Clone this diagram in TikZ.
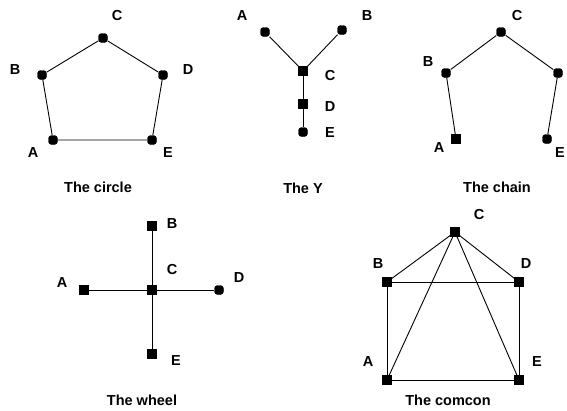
\documentclass[tikz,border=0pt]{standalone}
\usepackage{fontspec}
\setmainfont{Liberation Sans}
\tikzset{
  gEdge/.style={line width=.9pt},
  gNode/.style={rectangle,fill=black,draw=black,minimum size=9pt,inner sep=0pt},
  gDot/.style={gNode,rounded corners=3pt},
  gLab/.style={font=\fontsize{14.5}{16}\selectfont\bfseries,inner sep=0pt},
  gTitle/.style={gLab},
}
\begin{document}
\begin{tikzpicture}[x=1pt,y=-1pt]
\useasboundingbox (0,0) rectangle (567,410);
% the circle
\node[gDot] (ciC) at (103,38)  {};
\node[gDot] (ciB) at (42,75)   {};
\node[gDot] (ciD) at (163,75)  {};
\node[gDot] (ciA) at (53,140)  {};
\node[gDot] (ciE) at (152,140) {};
\node[gLab] at (117,16)  {C};
\node[gLab] at (15,70)   {B};
\node[gLab] at (188,70)  {D};
\node[gLab] at (33,153)  {A};
\node[gLab] at (168,153) {E};
\node[gTitle] (ciT) at (98,187) {The circle};
\draw[gEdge] (ciA)--(ciB)--(ciC)--(ciD)--(ciE)--(ciA);
% the Y
\node[gDot] (yA) at (265,32)  {};
\node[gDot] (yB) at (342,30)  {};
\node[gNode] (yC) at (303,71) {};
\node[gNode] (yD) at (303,104) {};
\node[gDot] (yE) at (303,132) {};
\node[gLab] at (242,16)  {A};
\node[gLab] at (367,16)  {B};
\node[gLab] at (330,76)  {C};
\node[gLab] at (330,107) {D};
\node[gLab] at (330,133) {E};
\node[gTitle] (yT) at (303,188) {The Y};
\draw[gEdge] (yA)--(yC)--(yB);
\draw[gEdge] (yC)--(yD)--(yE);
% the chain
\node[gDot] (chC) at (501,32)  {};
\node[gDot] (chB) at (446,73)  {};
\node[gDot] (chD) at (558,73)  {};
\node[gNode] (chA) at (456,139) {};
\node[gDot] (chE) at (547,139) {};
\node[gLab] at (517,16)  {C};
\node[gLab] at (428,62)  {B};
\node[gLab] at (439,148) {A};
\node[gLab] at (560,153) {E};
\node[gTitle] (chT) at (497,187) {The chain};
\draw[gEdge] (chA)--(chB)--(chC)--(chD)--(chE);
% the wheel
\node[gNode] (whC) at (152,290) {};
\node[gNode] (whB) at (152,226) {};
\node[gNode] (whA) at (84,290)  {};
\node[gDot]  (whD) at (219,290) {};
\node[gNode] (whE) at (152,354) {};
\node[gLab] at (172,224) {B};
\node[gLab] at (172,270) {C};
\node[gLab] at (62,283)  {A};
\node[gLab] at (239,278) {D};
\node[gLab] at (176,361) {E};
\node[gTitle] (whT) at (142,400) {The wheel};
\draw[gEdge] (whA)--(whC)--(whD);
\draw[gEdge] (whB)--(whC)--(whE);
% the comcon
\node[gNode] (coC) at (455,232) {};
\node[gNode] (coB) at (387,282) {};
\node[gNode] (coD) at (519,282) {};
\node[gNode] (coA) at (387,380) {};
\node[gNode] (coE) at (519,380) {};
\node[gLab] at (479,215) {C};
\node[gLab] at (378,264) {B};
\node[gLab] at (526,264) {D};
\node[gLab] at (368,362) {A};
\node[gLab] at (537,362) {E};
\node[gTitle] (coT) at (448,400) {The comcon};
\draw[gEdge] (coA)--(coB)--(coD)--(coE)--(coA);
\draw[gEdge] (coB)--(coC)--(coD);
\draw[gEdge] (coA)--(coC)--(coE);
\end{tikzpicture}
\end{document}
